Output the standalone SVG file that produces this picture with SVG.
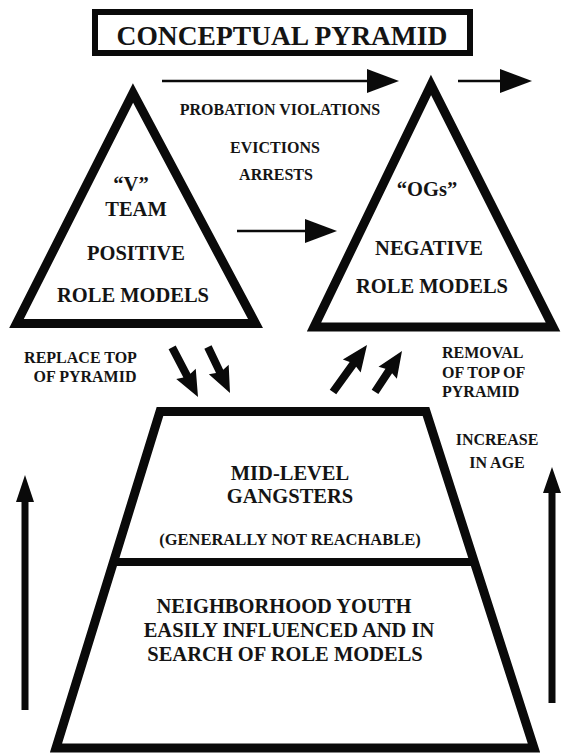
<svg xmlns="http://www.w3.org/2000/svg" width="561" height="754" viewBox="0 0 561 754" font-family="'Liberation Serif', 'Times New Roman', Times, serif">
<style>
  text { font-weight: bold; fill: #141414; text-anchor: middle; }
  .big { font-size: 20.5px; }
  .mid { font-size: 16px; }
  .outline { fill: #fff; stroke: #0a0a0a; stroke-linejoin: miter; stroke-miterlimit: 10; }
  .thin { stroke: #0a0a0a; stroke-width: 2.5; fill: none; }
  .fat { fill: #0a0a0a; }
</style>
<defs>
  <marker id="head" viewBox="0 0 32 24" refX="0" refY="12" markerWidth="32" markerHeight="24" markerUnits="userSpaceOnUse" orient="auto">
    <path d="M0,0 L32,12 L0,24 Z" fill="#0a0a0a"/>
  </marker>
</defs>
<rect width="561" height="754" fill="#fff"/>

<g id="title">
  <rect x="95" y="12" width="375" height="41" fill="#fff" stroke="#0a0a0a" stroke-width="6"/>
  <text x="282" y="45" style="font-size:27.5px">CONCEPTUAL PYRAMID</text>
</g>

<g id="v-team">
  <polygon class="outline" stroke-width="9" points="133,93 16.5,323.5 255.5,323.5"/>
  <text class="big" x="131" y="191">“V”</text>
  <text class="big" x="136" y="216">TEAM</text>
  <text class="big" x="136" y="260">POSITIVE</text>
  <text class="big" x="133" y="302">ROLE MODELS</text>
</g>

<g id="ogs">
  <polygon class="outline" stroke-width="9" points="431,85 314,327 553,327"/>
  <text class="big" x="427" y="196">“OGs”</text>
  <text class="big" x="429" y="255">NEGATIVE</text>
  <text class="big" x="432" y="293">ROLE MODELS</text>
</g>

<g id="pyramid-base">
  <polygon class="outline" stroke-width="9" points="160,411.5 426,411.5 534,748 56,748"/>
  <line x1="113" y1="562" x2="474" y2="562" stroke="#0a0a0a" stroke-width="8"/>
</g>

<g id="mid-level">
  <text class="big" x="290" y="480">MID-LEVEL</text>
  <text class="big" x="290" y="503">GANGSTERS</text>
  <text x="290" y="545" style="font-size:16.5px">(GENERALLY NOT REACHABLE)</text>
</g>

<g id="youth">
  <text class="big" x="284" y="613">NEIGHBORHOOD YOUTH</text>
  <text class="big" x="289" y="637">EASILY INFLUENCED AND IN</text>
  <text class="big" x="285" y="661">SEARCH OF ROLE MODELS</text>
</g>

<g id="events">
  <text class="mid" x="280" y="115">PROBATION VIOLATIONS</text>
  <text class="mid" x="275" y="153">EVICTIONS</text>
  <text class="mid" x="276" y="180">ARRESTS</text>
</g>

<g id="replace-label">
  <text class="mid" x="80.5" y="363">REPLACE TOP</text>
  <text class="mid" x="85" y="382">OF PYRAMID</text>
</g>

<g id="removal-label">
  <text class="mid" x="442" y="358" style="text-anchor:start">REMOVAL</text>
  <text class="mid" x="442" y="378" style="text-anchor:start">OF TOP OF</text>
  <text class="mid" x="442" y="397" style="text-anchor:start">PYRAMID</text>
</g>

<g id="age-label">
  <text class="mid" x="497" y="445">INCREASE</text>
  <text class="mid" x="497" y="468">IN AGE</text>
</g>

<g id="connectors">
  <line class="thin" x1="162" y1="81" x2="367" y2="81" marker-end="url(#head)"/>
  <line class="thin" x1="458" y1="81" x2="500" y2="81" marker-end="url(#head)"/>
  <line class="thin" x1="237" y1="231" x2="305" y2="231" marker-end="url(#head)"/>

  <polygon class="fat" transform="translate(198,397) rotate(62.5)" points="0,0 -26,-11 -24,-4 -56,-4 -56,4 -24,4 -26,11"/>
  <polygon class="fat" transform="translate(230,393) rotate(64.4)" points="0,0 -26,-11 -24,-4 -51,-4 -51,4 -24,4 -26,11"/>
  <polygon class="fat" transform="translate(367,345) rotate(-54.1)" points="0,0 -26,-11 -24,-4 -58,-4 -58,4 -24,4 -26,11"/>
  <polygon class="fat" transform="translate(402,351) rotate(-56.6)" points="0,0 -26,-11 -24,-4 -49,-4 -49,4 -24,4 -26,11"/>

  <path class="fat" d="M25,475 L34,502 L28.5,502 L28.5,710 L21.5,710 L21.5,502 L16,502 Z"/>
  <path class="fat" d="M552,467 L561,493 L555.5,493 L555.5,703 L548.5,703 L548.5,493 L543,493 Z"/>
</g>
</svg>
